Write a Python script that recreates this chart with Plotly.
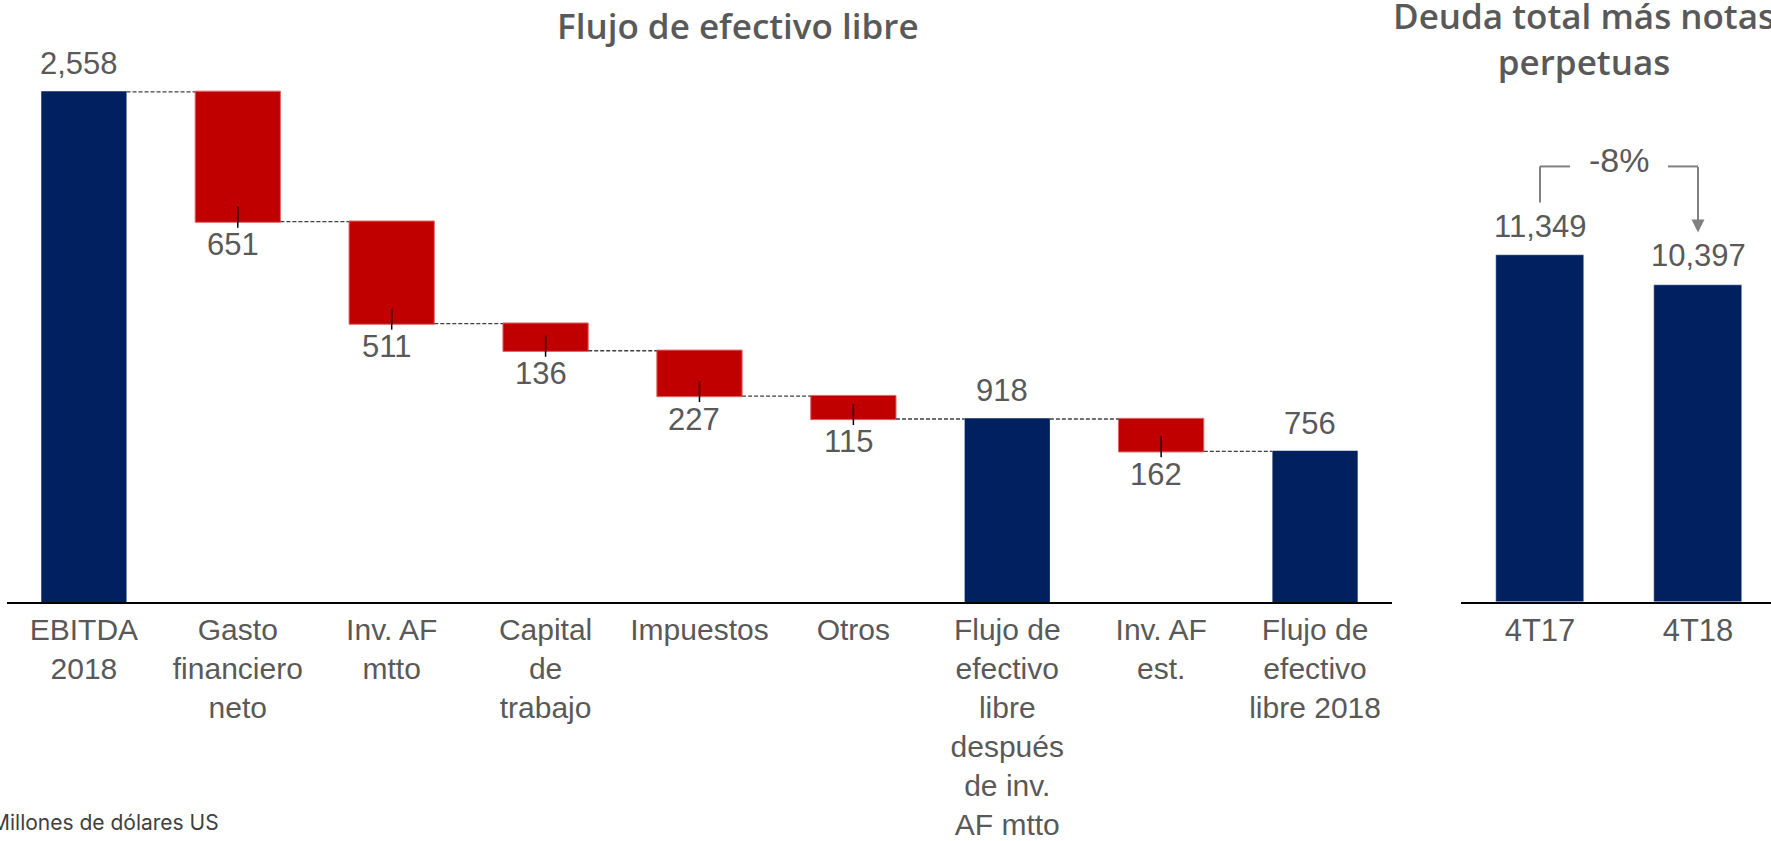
import plotly.graph_objects as go

# datos (millones de dólares US)
categorias = ['EBITDA<br>2018', 'Gasto<br>financiero<br>neto', 'Inv. AF<br>mtto', 'Capital<br>de<br>trabajo',
              'Impuestos', 'Otros', 'Flujo de<br>efectivo<br>libre<br>después<br>de inv.<br>AF mtto',
              'Inv. AF<br>est.', 'Flujo de<br>efectivo<br>libre 2018']
medidas = ['absolute', 'relative', 'relative', 'relative', 'relative', 'relative', 'total', 'relative', 'total']
flujo = [2558, -651, -511, -136, -227, -115, 0, -162, 0]

periodos = ['4T17', '4T18']
deuda = [11349, 10397]
variacion = '-8%'

azul = '#002060'
rojo = '#C00000'
gris = '#595959'
fnt = 'Liberation Sans, Arial, sans-serif'

# acumulado del waterfall
acum = []
t = 0
for m, v in zip(medidas, flujo):
    if m == 'absolute':
        t = v
    elif m == 'relative':
        t += v
    acum.append(t)

xs = list(range(len(categorias)))

fig = go.Figure()
fig.add_trace(go.Waterfall(x=xs, y=flujo, measure=medidas, width=0.554,
                           decreasing=dict(marker=dict(color=rojo, line=dict(color='#E06666', width=1))),
                           increasing=dict(marker=dict(color=azul)),
                           totals=dict(marker=dict(color=azul)),
                           connector=dict(mode='between', line=dict(color='#404040', width=1.3, dash='4px,2px')),
                           textinfo='none', hoverinfo='skip', showlegend=False))
fig.add_trace(go.Bar(x=periodos, y=deuda, marker_color=azul, width=0.557,
                     xaxis='x2', yaxis='y2', hoverinfo='skip', showlegend=False))

anns = []
shapes = []
for i, (m, v, a) in enumerate(zip(medidas, flujo, acum)):
    if m == 'relative':
        anns.append(dict(x=i, y=a, xref='x', yref='y', text=f'{abs(v):,}', showarrow=False,
                         yanchor='middle', yshift=-23, xshift=-5))
        shapes.append(dict(type='line', xref='x', yref='y', x0=i, x1=i, ysizemode='pixel', yanchor=a,
                           y0=-6, y1=15, line=dict(color='black', width=1.5)))
    else:
        anns.append(dict(x=i, y=a, xref='x', yref='y', text=f'{a:,}', showarrow=False,
                         yanchor='middle', yshift=28, xshift=-5))

for p, d in zip(periodos, deuda):
    anns.append(dict(x=p, y=d, xref='x2', yref='y2', text=f'{d:,}', showarrow=False,
                     yanchor='middle', yshift=29))

# corchete de variación
for x0, x1, y0, y1 in [(0, 0, 53, 89), (0, 0.19, 89, 89), (0.81, 1, 89, 89)]:
    shapes.append(dict(type='line', xref='x2', yref='y2', x0=x0, x1=x1, ysizemode='pixel',
                       yanchor=deuda[0], y0=y0, y1=y1, line=dict(color='#808080', width=2)))
anns.append(dict(x=1, y=deuda[1], xref='x2', yref='y2', text='', showarrow=True, yshift=52,
                 ax=0, ay=-67, arrowhead=2, arrowsize=1.3, arrowwidth=2, arrowcolor='#808080'))
anns.append(dict(x=0.5, y=deuda[0], xref='x2', yref='y2', text=variacion, showarrow=False,
                 yanchor='middle', yshift=95, font=dict(family=fnt, size=34, color=gris)))

for a in anns:
    if 'font' not in a:
        a['font'] = dict(family=fnt, size=31, color=gris)

# títulos y nota
anns.append(dict(x=737.5 / 1771, y=1 - 26 / 841, xref='paper', yref='paper', text='Flujo de efectivo libre',
                 showarrow=False, xanchor='center', yanchor='middle',
                 font=dict(family='Open Sans', size=35, color=gris, weight=600)))
anns.append(dict(x=1584 / 1771, y=1 - 39 / 841, xref='paper', yref='paper',
                 text='Deuda total más notas<br>perpetuas', showarrow=False, xanchor='center', yanchor='middle',
                 font=dict(family='Open Sans', size=35, color=gris, weight=600)))
anns.append(dict(x=221 / 1771, y=1 - 825 / 841, xref='paper', yref='paper', text='Millones de dólares US',
                 showarrow=False, xanchor='right', yanchor='middle',
                 font=dict(family='Inter', size=21, color='#404040')))

ydom = [1 - 604.3 / 841, 1]
fig.update_layout(
    width=1771, height=841, margin=dict(l=0, r=0, t=0, b=0),
    paper_bgcolor='white', plot_bgcolor='white',
    annotations=anns, shapes=shapes, bargap=0,
    xaxis=dict(domain=[6.95 / 1771, 1392 / 1771], range=[-0.5, 8.5], tickvals=xs, ticktext=categorias,
               showline=True, linecolor='black', linewidth=2, showgrid=False, zeroline=False, ticks='',
               tickfont=dict(family=fnt, size=30, color=gris), anchor='y'),
    yaxis=dict(domain=ydom, range=[0, 3018], visible=False, anchor='x'),
    xaxis2=dict(domain=[1461 / 1771, 1], range=[-0.5, 1.462], type='category',
                showline=True, linecolor='black', linewidth=2, showgrid=False, zeroline=False, ticks='',
                tickfont=dict(family=fnt, size=31, color=gris), anchor='y2'),
    yaxis2=dict(domain=ydom, range=[0, 19710], visible=False, anchor='x2'),
)

fig.write_html('out.html', config={'displayModeBar': False},
               post_script="document.body.style.margin='0';")
